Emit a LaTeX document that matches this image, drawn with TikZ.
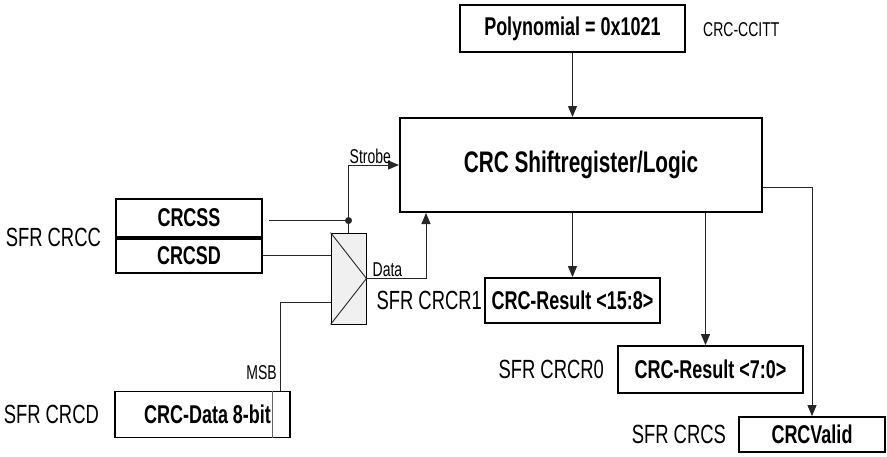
\documentclass[tikz,border=0pt]{standalone}
\usepackage{fontspec}
\setmainfont{Liberation Sans}[FakeStretch=0.7]
\usetikzlibrary{arrows.meta, positioning}

\tikzset{
    regbox/.style={draw, line width=1.8pt, inner sep=0pt,
        font=\bfseries\fontsize{25.7}{27}\selectfont},
    sfrlabel/.style={anchor=east, inner sep=0pt, font=\fontsize{26.3}{28}\selectfont},
    smalllabel/.style={inner sep=1pt, font=\fontsize{20}{22}\selectfont},
    wire/.style={line width=0.9pt, draw=black!85},
    conn/.style={wire, -{Triangle[length=11pt,width=9pt]}},
}

\begin{document}
\begin{tikzpicture}[x=1pt, y=-1pt]
    \useasboundingbox (0,0) rectangle (887,456);
    % registers and logic
    \node[regbox, minimum width=225, minimum height=47] (poly) at (572.5,28.5) {Polynomial = 0x1021};
    \node[smalllabel, anchor=west] (ccitt) at (702,30) {CRC-CCITT};
    \node[regbox, line width=2pt, minimum width=362, minimum height=94,
        font=\bfseries\fontsize{29.7}{31}\selectfont] (logic) at (581,165) {CRC Shiftregister/Logic};
    \node[regbox, minimum width=146, minimum height=38] (crcss) at (189,218) {CRCSS};
    \node[regbox, minimum width=146, minimum height=34, below=0pt of crcss] (crcsd) {CRCSD};
    \node[sfrlabel] (sfrcrcc) at ([xshift=-14pt]crcss.south west) {SFR CRCC};
    \node[draw, line width=0.9pt, fill=black!6, minimum width=35, minimum height=91,
        inner sep=0pt] (mux) at (348.5,278.5) {};
    \draw[wire] (mux.north west) -- (mux.east) -- (mux.south west);
    \node[regbox, minimum width=175, minimum height=46] (crcdata) at (202.5,414.5) {};
    \node[regbox, draw=none, anchor=east] (datatext) at ([xshift=-19pt]crcdata.east) {CRC-Data 8-bit};
    \draw[line width=0.6pt, black!60] ([xshift=-19pt]crcdata.north east) -- ([xshift=-19pt]crcdata.south east);
    \node[sfrlabel] (sfrcrcd) at ([xshift=-15pt]crcdata.west) {SFR CRCD};
    \node[regbox, minimum width=175, minimum height=45] (res1) at (572.5,300.5) {CRC-Result <15:8>};
    \node[sfrlabel] (sfrcrcr1) at ([xshift=-2pt]res1.west) {SFR CRCR1};
    \node[regbox, minimum width=185, minimum height=47] (res0) at (710.5,369.5) {CRC-Result <7:0>};
    \node[sfrlabel] (sfrcrcr0) at ([xshift=-13pt]res0.west) {SFR CRCR0};
    \node[regbox, minimum width=146, minimum height=35] (valid) at (812,434.5) {CRCValid};
    \node[sfrlabel] (sfrcrcs) at ([xshift=-12pt]valid.west) {SFR CRCS};

    % connections
    \coordinate (junc) at ([yshift=12pt]mux.north);
    \coordinate (msb) at ([xshift=-10pt]crcdata.north east);
    \draw[conn] (poly.south) -- (poly.south |- logic.north);
    \draw[wire, shorten >=6pt] (junc) -- (junc -| crcss.east);
    \draw[conn] (mux.north) -- (junc) |- (logic.west);
    \fill[black!85] (junc) circle (3.5pt);
    \node[smalllabel, anchor=south west] (strobe) at (junc |- logic.west) {Strobe};
    \draw[wire] (crcsd.east) -- (crcsd.east -| mux.west);
    \draw[wire] (msb) |- ([yshift=-24pt]mux.west);
    \node[smalllabel, anchor=south east] (msblabel) at ([xshift=-3pt, yshift=10pt]msb) {MSB};
    \draw[conn] (mux.east) -| ([xshift=-155pt]logic.south);
    \node[smalllabel, anchor=south west] (data) at ([xshift=5pt, yshift=1pt]mux.east) {Data};
    \draw[conn] (res1.north |- logic.south) -- (res1.north);
    \draw[conn] ([xshift=-5pt]res0.north |- logic.south) -- ([xshift=-5pt]res0.north);
    \draw[conn] ([yshift=-22pt]logic.east) -| (valid.north);
\end{tikzpicture}
\end{document}
